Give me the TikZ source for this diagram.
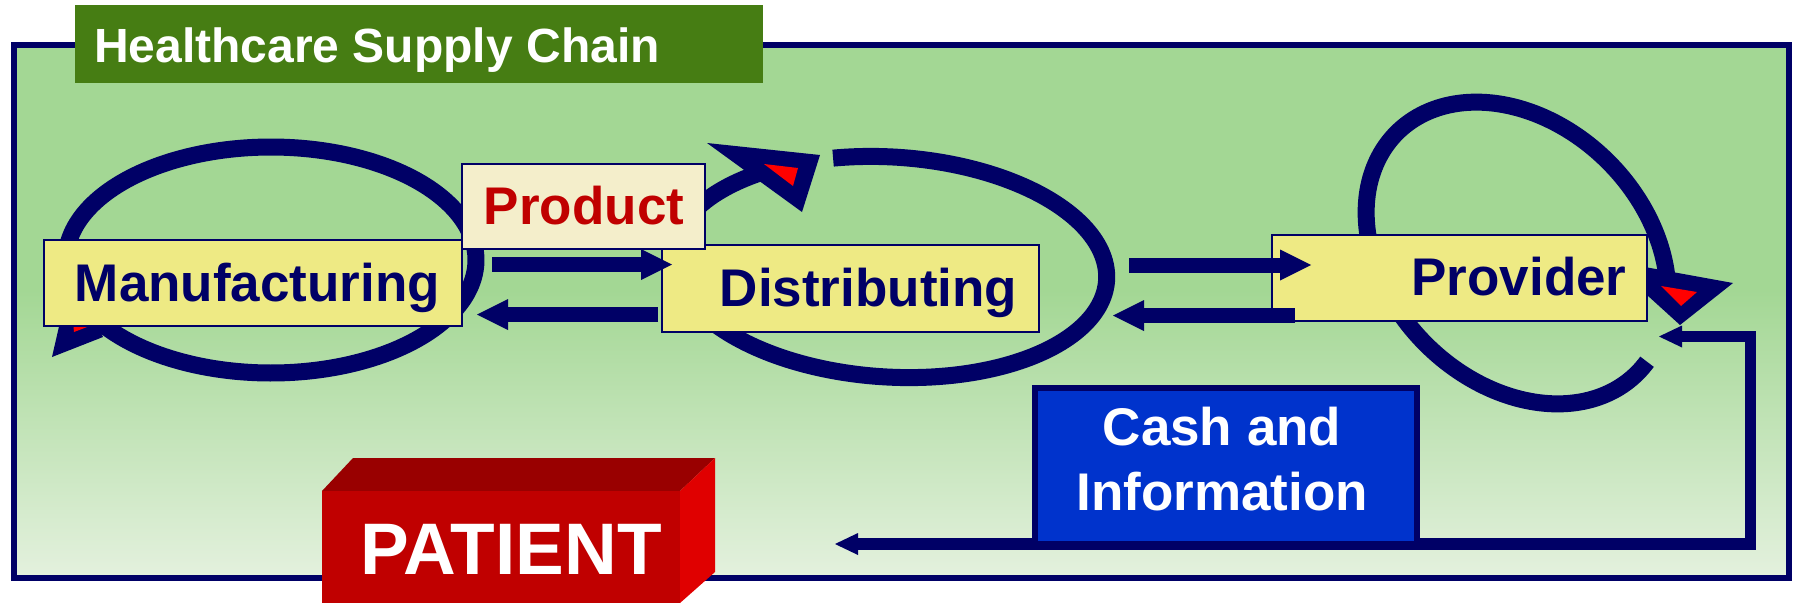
\documentclass[tikz,border=0pt]{standalone}
\usepackage{fontspec}
\setmainfont{Liberation Sans}
\usetikzlibrary{arrows.meta}
\definecolor{navy}{HTML}{000066}
\definecolor{bggreen}{HTML}{A3D794}
\definecolor{bglight}{HTML}{E4F1DE}
\definecolor{titlegreen}{HTML}{467D13}
\definecolor{boxyellow}{HTML}{EEEA84}
\definecolor{prodcream}{HTML}{F4EECB}
\definecolor{prodred}{HTML}{C00000}
\definecolor{cashblue}{HTML}{0033CC}
\definecolor{patfront}{HTML}{C00000}
\definecolor{pattop}{HTML}{990000}
\definecolor{patside}{HTML}{E00000}
\definecolor{headred}{HTML}{FF0000}
\tikzset{
  flowtip/.tip={Triangle[length=31pt,width=31pt,line width=0pt]},
  cashtip/.tip={Triangle[length=23pt,width=22pt,line width=0pt]}
}
\begin{document}
\begin{tikzpicture}[x=1pt,y=-1pt,
  box/.style={draw=navy,line width=1.5pt,fill=boxyellow,inner sep=0pt,anchor=north west},
  boxtext/.style={text=navy,font=\fontsize{53pt}{60pt}\selectfont\bfseries,inner sep=0pt,anchor=base},
  whitetext/.style={text=white,font=\fontsize{53pt}{60pt}\selectfont\bfseries,inner sep=0pt,anchor=base},
  loopline/.style={draw=navy,line width=17pt},
  flowarrow/.style={draw=navy,line width=15pt,-flowtip},
  cashline/.style={draw=navy,line width=11.5pt,line join=miter,cashtip-cashtip}
]
\useasboundingbox (0,0) rectangle (1799,603);
% frame
\fill[bggreen] (13.5,45) rectangle (1789,292);
\fill[top color=bggreen,bottom color=bglight] (13.5,290) rectangle (1789,578);
\draw[navy,line width=6pt] (13.5,45) rectangle (1789,578);
% title
\node[fill=titlegreen,minimum width=688pt,minimum height=78pt,inner sep=0pt,anchor=north west] (title) at (75,5) {};
\node[whitetext,font=\fontsize{48pt}{56pt}\selectfont\bfseries] (titletext) at (377,62) {Healthcare Supply Chain};
% loops
\draw[loopline] plot[domain=-200:150,samples=200] ({271+205*cos(\x)},{260+113*sin(\x)});
\draw[loopline] plot[domain=-107:232,samples=200] ({890+216.6*cos(\x)-6.7*sin(\x)},{267+13.25*cos(\x)+109.8*sin(\x)});
\draw[loopline] plot[domain=-6.7:322,samples=200] ({1517+120.2*cos(\x)-91.2*sin(\x)},{253+120.2*cos(\x)+91.2*sin(\x)});
% loop arrowheads
\fill[navy] (52,357) -- (103,337) -- (72,270) -- cycle;
\fill[headred] (74,332) -- (95,324) -- (72,312) -- cycle;
\fill[navy] (707,143) -- (820,155) -- (802,212) -- cycle;
\fill[headred] (764,164) -- (798,168) -- (793,186) -- cycle;
\fill[navy] (1609,260.5) -- (1733,283) -- (1680,325) -- cycle;
\fill[headred] (1661,286) -- (1697,292) -- (1681,306) -- cycle;
% boxes
\node[box,minimum width=418pt,minimum height=86pt] (manu) at (43,239) {};
\node[box,minimum width=377pt,minimum height=87pt] (dist) at (661,244) {};
\node[box,fill=prodcream,minimum width=243pt,minimum height=85pt] (prod) at (461,163) {};
\node[box,minimum width=375pt,minimum height=86pt] (prov) at (1271,234) {};
\node[boxtext] (manutext) at (257.5,301) {Manufacturing};
\node[boxtext,text=prodred] (prodtext) at (584,224) {Product};
\node[boxtext] (disttext) at (868.5,306) {Distributing};
\node[boxtext] (provtext) at (1519,295) {Provider};
% flow arrows
\coordinate (md1) at (492,264.5);
\coordinate (md2) at (672,264.5);
\coordinate (dm1) at (658,314.5);
\coordinate (dm2) at (477,314.5);
\coordinate (dp1) at (1129,265);
\coordinate (dp2) at (1311,265);
\coordinate (pd1) at (1295,315.5);
\coordinate (pd2) at (1113,315.5);
\draw[flowarrow] (md1) -- (md2);
\draw[flowarrow] (dm1) -- (dm2);
\draw[flowarrow] (dp1) -- (dp2);
\draw[flowarrow] (pd1) -- (pd2);
% cash line
\coordinate (cashtop) at (1659,336.5);
\coordinate (cornertop) at (1750.5,336.5);
\coordinate (cornerbot) at (1750.5,544);
\coordinate (cashend) at (835,544);
\draw[cashline] (cashtop) -- (cornertop) -- (cornerbot) -- (cashend);
\node[draw=navy,line width=6pt,fill=cashblue,inner sep=0pt,minimum width=382pt,minimum height=156pt,anchor=north west] (cash) at (1032,385) {};
\node[whitetext] (cashtext1) at (1222,445) {Cash and};
\node[whitetext] (cashtext2) at (1222,510) {Information};
% patient
\fill[pattop] (322,491) -- (353,458) -- (715,458) -- (680,491) -- cycle;
\fill[patside] (680,491) -- (715,458) -- (715,572) -- (680,603) -- cycle;
\node[fill=patfront,inner sep=0pt,minimum width=358pt,minimum height=112pt,anchor=north west] (patient) at (322,491) {};
\node[whitetext,font=\fontsize{73pt}{82pt}\selectfont\bfseries] (patienttext) at (511,574) {PATIENT};
\end{tikzpicture}
\end{document}
